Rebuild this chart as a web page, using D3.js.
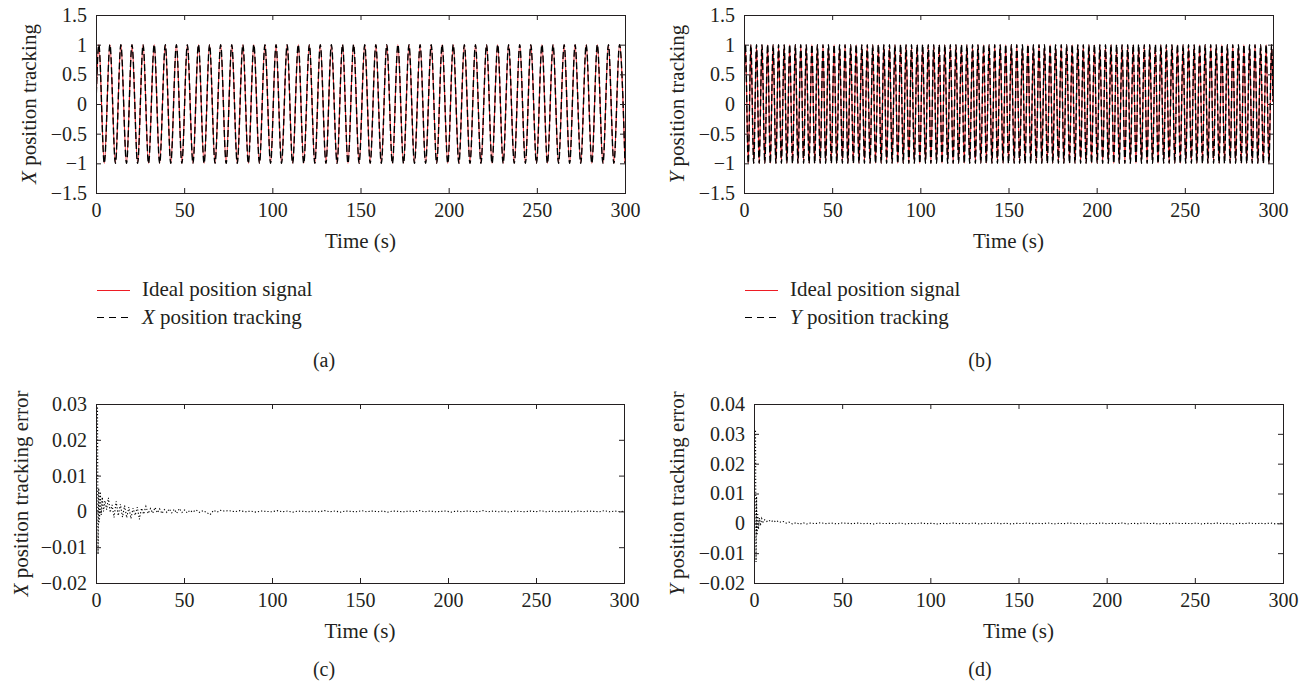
<!DOCTYPE html>
<html>
<head>
<meta charset="utf-8">
<script src="https://cdn.jsdelivr.net/npm/d3@7"></script>
<style>
    body { margin: 0; background: #fff; }
    svg text { font-family: "Liberation Serif", "Times New Roman", serif; fill: #231f20; }
</style>
</head>
<body>
<div id="chart"></div>
<script>

// ---------- data ----------

const timeTicks = [0, 50, 100, 150, 200, 250, 300];
const posTicks = [-1.5, -1, -0.5, 0, 0.5, 1, 1.5];
const xErrTicks = [-0.02, -0.01, 0, 0.01, 0.02, 0.03];
const yErrTicks = [-0.02, -0.01, 0, 0.01, 0.02, 0.03, 0.04];

const peakLevel = 1;
const troughLevel = -1;

// X position: times (s) of the crests and troughs
const xPeakTimes = [1.6, 7.9, 14.1, 20.4, 26.7, 33.0, 39.3, 45.6, 51.8, 58.1, 64.4, 70.7, 77.0, 83.3, 89.5, 95.8,
    102.1, 108.4, 114.7, 121.0, 127.2, 133.5, 139.8, 146.1, 152.4, 158.7, 164.9, 171.2, 177.5, 183.8, 190.1, 196.3,
    202.6, 208.9, 215.2, 221.5, 227.8, 234.0, 240.3, 246.6, 252.9, 259.2, 265.5, 271.7, 278.0, 284.3, 290.6, 296.9];
const xTroughTimes = [4.7, 11.0, 17.3, 23.6, 29.8, 36.1, 42.4, 48.7, 55.0, 61.3, 67.5, 73.8, 80.1, 86.4, 92.7, 99.0,
    105.2, 111.5, 117.8, 124.1, 130.4, 136.7, 142.9, 149.2, 155.5, 161.8, 168.1, 174.4, 180.6, 186.9, 193.2, 199.5,
    205.8, 212.1, 218.3, 224.6, 230.9, 237.2, 243.5, 249.8, 256.0, 262.3, 268.6, 274.9, 281.2, 287.5, 293.7];
const xEnds = [[0, 0], [300, -1]];

// Y position: times (s) of the crests and troughs
const yPeakTimes = [0.8, 3.9, 7.1, 10.2, 13.4, 16.5, 19.6, 22.8, 25.9, 29.1, 32.2, 35.3, 38.5, 41.6, 44.8, 47.9,
    51.1, 54.2, 57.3, 60.5, 63.6, 66.8, 69.9, 73.0, 76.2, 79.3, 82.5, 85.6, 88.8, 91.9, 95.0, 98.2,
    101.3, 104.5, 107.6, 110.7, 113.9, 117.0, 120.2, 123.3, 126.4, 129.6, 132.7, 135.9, 139.0, 142.2, 145.3, 148.4,
    151.6, 154.7, 157.9, 161.0, 164.1, 167.3, 170.4, 173.6, 176.7, 179.9, 183.0, 186.1, 189.3, 192.4, 195.6, 198.7,
    201.8, 205.0, 208.1, 211.3, 214.4, 217.6, 220.7, 223.8, 227.0, 230.1, 233.3, 236.4, 239.5, 242.7, 245.8, 249.0,
    252.1, 255.3, 258.4, 261.5, 264.7, 267.8, 271.0, 274.1, 277.2, 280.4, 283.5, 286.7, 289.8, 293.0, 296.1, 299.2];
const yTroughTimes = [2.4, 5.5, 8.6, 11.8, 14.9, 18.1, 21.2, 24.3, 27.5, 30.6, 33.8, 36.9, 40.1, 43.2, 46.3, 49.5,
    52.6, 55.8, 58.9, 62.0, 65.2, 68.3, 71.5, 74.6, 77.8, 80.9, 84.0, 87.2, 90.3, 93.5, 96.6, 99.7,
    102.9, 106.0, 109.2, 112.3, 115.5, 118.6, 121.7, 124.9, 128.0, 131.2, 134.3, 137.4, 140.6, 143.7, 146.9, 150.0,
    153.2, 156.3, 159.4, 162.6, 165.7, 168.9, 172.0, 175.1, 178.3, 181.4, 184.6, 187.7, 190.9, 194.0, 197.1, 200.3,
    203.4, 206.6, 209.7, 212.8, 216.0, 219.1, 222.3, 225.4, 228.6, 231.7, 234.8, 238.0, 241.1, 244.3, 247.4, 250.5,
    253.7, 256.8, 260.0, 263.1, 266.3, 269.4, 272.5, 275.7, 278.8, 282.0, 285.1, 288.2, 291.4, 294.5, 297.7];
const yEnds = [[0, 0], [300, 0.04]];

// tracking errors [time, error]
const xErrSamples = [
    [0, 0.029], [0.3, -0.012], [0.7, 0.0065], [1.1, -0.003], [1.6, 0.0055], [2.1, -0.001],
    [2.7, 0.004], [3.4, 0.0], [4.2, 0.003], [5.2, 0.0005], [6.2, 0.0038], [7.2, -0.0003],
    [8.3, 0.0018], [9.4, -0.0017], [10.6, 0.0028], [11.8, -0.0012], [13.0, 0.002], [14.2, -0.0016],
    [15.4, 0.0016], [16.6, -0.0018], [17.8, 0.0012], [19.0, -0.002], [20.2, 0.0009], [21.4, -0.0011],
    [22.6, 0.0012], [23.8, -0.0022], [25.0, 0.0009], [26.2, -0.0008], [27.5, 0.0014], [28.8, -0.0006],
    [30.1, 0.0008], [31.4, -0.0005], [32.7, 0.0011], [34.0, -0.0004], [35.3, 0.0007], [36.6, -0.0006],
    [38.0, 0.0005], [39.4, -0.0003], [40.8, 0.0007], [42.2, -0.0004], [43.6, 0.0006], [45.0, -0.0005],
    [46.5, 0.0008], [48.0, -0.0003], [49.5, 0.0004], [51.0, -0.0004], [52.5, 0.0003], [54.0, -0.0002],
    [56.0, 0.0004], [58.0, -0.0003], [60.0, 0.0002], [62.0, -0.0003], [64.0, -0.0009], [66.0, 0.0003],
    [68.0, -0.0002], [70.0, 0.0003], [72.0, 0.0001], [75.0, 0.0002], [78.0, -0.0001], [81, 0.0002],
    [84, -0.0001], [87, 0.0001], [90, -0.0002], [93, 0.0001], [96, 0.0], [99, -0.0001], [102, 0.0002],
    [105, -0.0001], [108, 0.0001], [111, -0.0002], [114, 0.0001], [117, 0.0], [120, -0.0001], [123, 0.0001],
    [126, -0.0001], [129, 0.0002], [132, -0.0001], [135, 0.0001], [138, -0.0002], [141, 0.0001], [144, 0.0],
    [147, -0.0001], [150, 0.0002], [153, -0.0001], [156, 0.0001], [159, -0.0001], [162, 0.0001], [165, -0.0002],
    [168, 0.0001], [171, 0.0], [174, -0.0001], [177, 0.0001], [180, -0.0001], [183, 0.0002], [186, -0.0001],
    [189, 0.0001], [192, -0.0001], [195, 0.0], [198, 0.0001], [201, -0.0002], [204, 0.0001], [207, -0.0001],
    [210, 0.0001], [213, 0.0], [216, -0.0001], [219, 0.0002], [222, -0.0001], [225, 0.0001], [228, -0.0001],
    [231, 0.0001], [234, -0.0002], [237, 0.0001], [240, 0.0], [243, -0.0001], [246, 0.0001], [249, -0.0001],
    [252, 0.0002], [255, -0.0001], [258, 0.0001], [261, -0.0001], [264, 0.0], [267, 0.0001], [270, -0.0002],
    [273, 0.0001], [276, -0.0001], [279, 0.0001], [282, 0.0], [285, -0.0001], [288, 0.0002], [291, -0.0001],
    [294, 0.0001], [297, -0.0001], [300, 0.0001]
];

const yErrSamples = [
    [0, 0.031], [0.3, -0.013], [0.6, 0.009], [0.9, -0.004], [1.3, 0.003], [1.7, -0.002],
    [2.2, 0.0018], [2.8, -0.0008], [3.5, 0.0016], [4.3, 0.0004], [5.2, 0.0012], [6.3, 0.0006],
    [7.5, 0.0011], [8.8, 0.0005], [10.2, 0.001], [11.6, 0.0004], [13.0, 0.0008], [14.5, 0.0003],
    [16.0, 0.0006], [17.5, 0.0001], [19.0, 0.0004], [21.0, -0.0002], [23.0, 0.0002], [25.0, -0.0003],
    [27, 0.0002], [29, -0.0002], [31, 0.0001], [34, -0.0001], [37, 0.0002], [40, -0.0001], [43, 0.0001],
    [46, -0.0002], [49, 0.0001], [52, 0.0], [55, -0.0001], [58, 0.0001], [61, -0.0001], [64, 0.0],
    [67, -0.0002], [70, 0.0001], [73, -0.0001], [76, 0.0], [79, -0.0001], [82, 0.0001], [85, -0.0002],
    [88, 0.0], [91, -0.0001], [94, 0.0001], [97, -0.0001], [100, 0.0], [103, -0.0002], [106, 0.0],
    [109, -0.0001], [112, 0.0001], [115, -0.0001], [118, 0.0], [121, -0.0001], [124, 0.0001], [127, -0.0002],
    [130, 0.0], [133, -0.0001], [136, 0.0001], [139, -0.0001], [142, 0.0], [145, -0.0002], [148, 0.0],
    [151, -0.0001], [154, 0.0001], [157, -0.0001], [160, 0.0], [163, -0.0001], [166, 0.0001], [169, -0.0002],
    [172, 0.0], [175, -0.0001], [178, 0.0001], [181, -0.0001], [184, 0.0], [187, -0.0002], [190, 0.0],
    [193, -0.0001], [196, 0.0001], [199, -0.0001], [202, 0.0], [205, -0.0001], [208, 0.0001], [211, -0.0002],
    [214, 0.0], [217, -0.0001], [220, 0.0001], [223, -0.0001], [226, 0.0], [229, -0.0002], [232, 0.0],
    [235, -0.0001], [238, 0.0001], [241, -0.0001], [244, 0.0], [247, -0.0001], [250, 0.0001], [253, -0.0002],
    [256, 0.0], [259, -0.0001], [262, 0.0001], [265, -0.0001], [268, 0.0], [271, -0.0002], [274, 0.0],
    [277, -0.0001], [280, 0.0001], [283, -0.0001], [286, 0.0], [289, -0.0001], [292, 0.0001], [295, -0.0002],
    [298, 0.0], [300, -0.0001]
];

// ---------- helpers ----------

const INK = "#231f20";
const RED = "#ee1c24";
const SERIF = '"Liberation Serif", "Times New Roman", serif';

function buildWave(peaks, troughs, ends) {
    let pts = peaks.map(t => ({t: t, v: peakLevel}))
        .concat(troughs.map(t => ({t: t, v: troughLevel})))
        .concat(ends.map(d => ({t: d[0], v: d[1]})));
    return pts.sort((a, b) => a.t - b.t);
}

/* * * * * * * * * * * * * *
*      class PanelVis        *
* * * * * * * * * * * * * */

class PanelVis {

    constructor(svg, cfg) {
        this.svg = svg;
        this.cfg = cfg;
        this.initVis();
    }

    initVis() {
        let vis = this;
        let c = vis.cfg;

        vis.g = vis.svg.append("g")
            .attr("transform", `translate(${c.left}, ${c.top})`);

        vis.x = d3.scaleLinear().domain([0, 300]).range([0, c.width]);
        vis.y = d3.scaleLinear().domain(d3.extent(c.yTicks)).range([c.height, 0]);

        vis.clipId = "clip-" + c.id;
        vis.g.append("clipPath").attr("id", vis.clipId)
            .append("rect")
            .attr("width", c.width)
            .attr("height", c.height);

        vis.plot = vis.g.append("g").attr("clip-path", `url(#${vis.clipId})`);

        vis.drawData();
        vis.drawAxes();
        vis.drawLabels();
    }

    drawData() {
        let vis = this;
        let c = vis.cfg;

        if (c.kind === "wave") {
            let line = d3.line()
                .x(d => vis.x(d.t))
                .y(d => vis.y(d.v))
                .curve(d3.curveMonotoneX);

            // ideal signal
            vis.plot.append("path")
                .datum(c.wave)
                .attr("fill", "none")
                .attr("stroke", RED)
                .attr("stroke-width", 1.1)
                .attr("d", line);

            // tracked signal (difference to ideal is below one pixel)
            vis.plot.append("path")
                .datum(c.wave)
                .attr("fill", "none")
                .attr("stroke", "#000")
                .attr("stroke-width", 1.4)
                .attr("stroke-dasharray", "7,3")
                .attr("d", line);
        } else {
            let line = d3.line()
                .x(d => vis.x(d[0]))
                .y(d => vis.y(d[1]));

            vis.plot.append("path")
                .datum(c.errors)
                .attr("transform", "translate(1.5, 0)")
                .attr("fill", "none")
                .attr("stroke", "#000")
                .attr("stroke-width", 1.1)
                .attr("stroke-dasharray", "1.2,2")
                .attr("d", line);
        }
    }

    drawAxes() {
        let vis = this;
        let c = vis.cfg;
        let fmt = d3.format("");

        let style = g => {
            g.select(".domain").remove();
            g.attr("font-family", SERIF).attr("font-size", 20);
            g.selectAll("line").attr("stroke", INK);
        };

        vis.g.append("g")
            .attr("transform", `translate(0, ${c.height})`)
            .call(d3.axisBottom(vis.x).tickValues(timeTicks).tickSize(-5).tickPadding(10).tickFormat(fmt))
            .call(style);

        vis.g.append("g")
            .call(d3.axisTop(vis.x).tickValues(timeTicks).tickSize(-5).tickFormat(""))
            .call(style);

        vis.g.append("g")
            .call(d3.axisLeft(vis.y).tickValues(c.yTicks).tickSize(-5).tickPadding(9).tickFormat(fmt))
            .call(style);

        vis.g.append("g")
            .attr("transform", `translate(${c.width}, 0)`)
            .call(d3.axisRight(vis.y).tickValues(c.yTicks).tickSize(-5).tickFormat(""))
            .call(style);

        // frame
        vis.g.append("rect")
            .attr("x", 0.5).attr("y", 0.5)
            .attr("width", c.width).attr("height", c.height)
            .attr("fill", "none")
            .attr("stroke", INK)
            .attr("stroke-width", 1);
    }

    drawLabels() {
        let vis = this;
        let c = vis.cfg;

        // x label
        vis.g.append("text")
            .attr("x", c.width / 2)
            .attr("y", c.height + 55)
            .attr("text-anchor", "middle")
            .attr("font-size", 21)
            .text("Time (s)");

        // y label
        let yl = vis.svg.append("text")
            .attr("transform", `translate(${c.yLabelX}, ${c.top + c.height / 2}) rotate(-90)`)
            .attr("text-anchor", "middle")
            .attr("font-size", 21);
        yl.append("tspan").attr("font-style", "italic").text(c.axisLetter);
        yl.append("tspan").text(c.yLabelRest);

        // legend
        if (c.legend) {
            let lg = vis.svg.append("g")
                .attr("transform", `translate(${c.left + 1}, 0)`);

            lg.append("line")
                .attr("x1", 0).attr("x2", 33)
                .attr("y1", 290.5).attr("y2", 290.5)
                .attr("stroke", RED).attr("stroke-width", 1);
            lg.append("text")
                .attr("x", 45).attr("y", 296)
                .attr("font-size", 21)
                .text("Ideal position signal");

            lg.append("line")
                .attr("x1", 0).attr("x2", 33)
                .attr("y1", 317.5).attr("y2", 317.5)
                .attr("stroke", "#000").attr("stroke-width", 1)
                .attr("stroke-dasharray", "7,5");
            let t2 = lg.append("text")
                .attr("x", 45).attr("y", 324)
                .attr("font-size", 21);
            t2.append("tspan").attr("font-style", "italic").text(c.axisLetter);
            t2.append("tspan").text(" position tracking");
        }

        // panel tag
        vis.svg.append("text")
            .attr("x", c.tagX)
            .attr("y", c.tagY)
            .attr("text-anchor", "middle")
            .attr("font-size", 20)
            .text(c.tag);
    }
}

// ---------- draw ----------

let svg = d3.select("#chart").append("svg")
    .attr("width", 1313)
    .attr("height", 688);

new PanelVis(svg, {
    id: "a", kind: "wave", left: 96, top: 15, width: 529, height: 178,
    yTicks: posTicks, wave: buildWave(xPeakTimes, xTroughTimes, xEnds),
    axisLetter: "X", yLabelRest: " position tracking", yLabelX: 36,
    legend: true, tag: "(a)", tagX: 324, tagY: 367
});

new PanelVis(svg, {
    id: "b", kind: "wave", left: 744, top: 15, width: 529, height: 178,
    yTicks: posTicks, wave: buildWave(yPeakTimes, yTroughTimes, yEnds),
    axisLetter: "Y", yLabelRest: " position tracking", yLabelX: 684,
    legend: true, tag: "(b)", tagX: 980, tagY: 367
});

new PanelVis(svg, {
    id: "c", kind: "error", left: 96, top: 404, width: 528, height: 179,
    yTicks: xErrTicks, errors: xErrSamples,
    axisLetter: "X", yLabelRest: " position tracking error", yLabelX: 28,
    legend: false, tag: "(c)", tagX: 324, tagY: 676
});

new PanelVis(svg, {
    id: "d", kind: "error", left: 754, top: 404, width: 529, height: 179,
    yTicks: yErrTicks, errors: yErrSamples,
    axisLetter: "Y", yLabelRest: " position tracking error", yLabelX: 684,
    legend: false, tag: "(d)", tagX: 980, tagY: 676
});

</script>
</body>
</html>
